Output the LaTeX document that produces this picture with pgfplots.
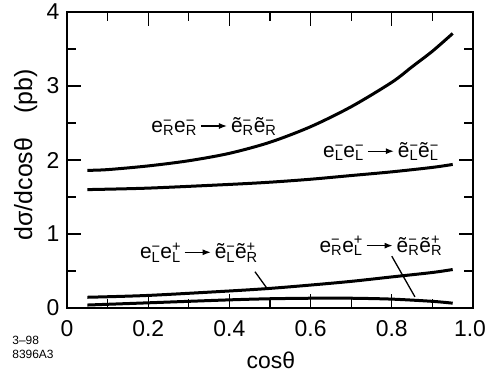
\documentclass[border=0pt]{standalone}
\usepackage{fontspec}
\setmainfont{Liberation Sans}
\usepackage{pgfplots}
\pgfplotsset{compat=1.18}
\usetikzlibrary{arrows.meta}
% particle with stacked sub/superscript
\newcommand\pe[3]{#1\rlap{\textsuperscript{#3}}\textsubscript{#2}}
\newcommand\arr{\,\tikz[baseline=-0.6ex]\draw[-{Latex[length=8bp,width=6bp]},line width=1.2bp](0,0)--(26bp,0);\,}
\begin{document}
\begin{tikzpicture}
\useasboundingbox (-67bp,-68bp) rectangle (418bp,308bp);
\begin{axis}[scale only axis,width=406bp,height=296bp,
  xmin=0,xmax=1,ymin=0,ymax=4,
  xtick={0,0.2,0.4,0.6,0.8,1.0},xticklabels={0,0.2,0.4,0.6,0.8,\hspace{-6bp}1.0},
  minor xtick={0.1,0.3,0.5,0.7,0.9},
  ytick={0,1,2,3,4},yticklabels={0,1,2,3,4},
  minor ytick={0.5,1.5,2.5,3.5},
  tick align=inside,major tick length=14bp,minor tick length=9bp,
  tick style={line width=1.3bp,black},axis line style={line width=1.6bp},
  ticklabel style={font=\fontsize{23}{26}\selectfont},
  xticklabel style={yshift=-9bp},
  yticklabel style={xshift=-4bp},
  label style={font=\fontsize{23}{26}\selectfont},
  xlabel={cosθ},ylabel={dσ/dcosθ\hspace{24bp}(pb)},
  xlabel style={at={(axis description cs:0.502,-0.203)},anchor=base},
  ylabel style={font=\fontsize{25}{28}\selectfont,at={(axis description cs:-0.086,0.517)},anchor=base},
  clip=false]
\addplot[black,line width=3bp,smooth] coordinates {(0.05,1.86) (0.1,1.87) (0.2,1.92) (0.3,1.99) (0.4,2.09) (0.5,2.24) (0.6,2.45) (0.7,2.72) (0.8,3.05) (0.85,3.26) (0.9,3.47) (0.95,3.71)};
\addplot[black,line width=3bp,smooth] coordinates {(0.05,1.60) (0.2,1.62) (0.4,1.67) (0.5,1.70) (0.6,1.74) (0.7,1.79) (0.8,1.84) (0.9,1.90) (0.95,1.94)};
\addplot[black,line width=3bp,smooth] coordinates {(0.05,0.145) (0.2,0.17) (0.4,0.23) (0.5,0.265) (0.6,0.31) (0.7,0.36) (0.8,0.42) (0.9,0.48) (0.95,0.52)};
\addplot[black,line width=3bp,smooth] coordinates {(0.05,0.04) (0.2,0.07) (0.4,0.11) (0.5,0.125) (0.6,0.132) (0.7,0.132) (0.8,0.12) (0.9,0.09) (0.95,0.065)};
\node[font=\fontsize{21}{24}\selectfont] at (axis cs:0.362,2.45) {\pe{e}{R}{−}\pe{e}{R}{−}\arr\pe{ẽ}{R}{−}\pe{ẽ}{R}{−}};
\node[font=\fontsize{21}{24}\selectfont] at (axis cs:0.773,2.11) {\pe{e}{L}{−}\pe{e}{L}{−}\arr\pe{ẽ}{L}{−}\pe{ẽ}{L}{−}};
\node[font=\fontsize{21}{24}\selectfont] at (axis cs:0.325,0.75) {\pe{e}{L}{−}\pe{e}{L}{+}\arr\pe{ẽ}{L}{−}\pe{ẽ}{R}{+}};
\node[font=\fontsize{21}{24}\selectfont] at (axis cs:0.773,0.84) {\pe{e}{R}{−}\pe{e}{L}{+}\arr\pe{ẽ}{R}{−}\pe{ẽ}{R}{+}};
\draw[line width=1.3bp] (axis cs:0.463,0.49) -- (axis cs:0.492,0.27);
\draw[line width=1.3bp] (axis cs:0.80,0.70) -- (axis cs:0.857,0.15);
\node[anchor=north west,align=left,font=\fontsize{12}{14}\selectfont,inner sep=0pt] at (rel axis cs:-0.135,-0.095) {3–98\\8396A3};
\end{axis}
\end{tikzpicture}
\end{document}
